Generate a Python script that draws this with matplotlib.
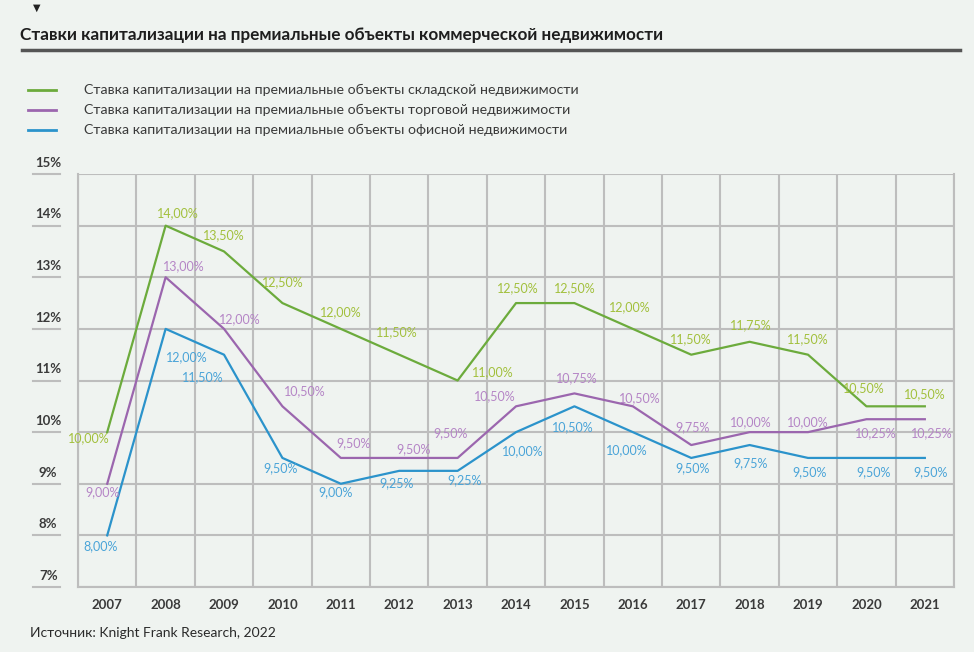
import numpy as np
import matplotlib
matplotlib.use("Agg")
import matplotlib.pyplot as plt
from matplotlib.lines import Line2D

plt.rcParams["font.family"] = ["Lato", "DejaVu Sans"]

# ── data ─────────────────────────────────────────────────────────────────────

years = ["2007", "2008", "2009", "2010", "2011", "2012", "2013", "2014",
         "2015", "2016", "2017", "2018", "2019", "2020", "2021"]

warehouse = [10.00, 14.00, 13.50, 12.50, 12.00, 11.50, 11.00, 12.50,
             12.50, 12.00, 11.50, 11.75, 11.50, 10.50, 10.50]
retail = [9.00, 13.00, 12.00, 10.50, 9.50, 9.50, 9.50, 10.50,
          10.75, 10.50, 9.75, 10.00, 10.00, 10.25, 10.25]
office = [8.00, 12.00, 11.50, 9.50, 9.00, 9.25, 9.25, 10.00,
          10.50, 10.00, 9.50, 9.75, 9.50, 9.50, 9.50]

series_names = [
    "Ставка капитализации на премиальные объекты складской недвижимости",
    "Ставка капитализации на премиальные объекты торговой недвижимости",
    "Ставка капитализации на премиальные объекты офисной недвижимости",
]

title = "Ставки капитализации на премиальные объекты коммерческой недвижимости"
source = "Источник: Knight Frank Research, 2022"

# ── style ────────────────────────────────────────────────────────────────────

BG = "#eff3f0"
GRID = "#bdbdbd"
LINE_COLORS = ["#6cab3c", "#9b66ae", "#2b93cb"]
LABEL_COLORS = ["#a2c03c", "#b585c6", "#4aa4d8"]

# label offsets in points (dx, dy) for each point of each series
warehouse_off = [(-13, -4), (9, 9), (0, 12), (0, 15), (0, 12), (-2, 16), (25, 6),
                 (1, 11), (0, 11), (-2, 16), (0, 11), (1, 12), (0, 11), (-2, 13), (0, 9)]
retail_off = [(-3, -6), (13, 8), (11, 7), (16, 11), (9, 11), (10, 6), (-5, 18),
              (-15, 7), (2, 11), (5, 6), (1, 13), (1, 7), (0, 7), (7, -10), (5, -10)]
office_off = [(-5, -8), (15, -20), (-15, -16), (-1, -7), (-4, -6), (-2, -9), (5, -7),
              (5, -14), (-1, -15), (-4, -13), (1, -7), (1, -13), (1, -10), (5, -10), (4, -10)]

# ── figure ───────────────────────────────────────────────────────────────────

fig = plt.figure(figsize=(9.74, 6.52), dpi=100, facecolor=BG)
ax = fig.add_axes([0.0801, 0.0997, 0.8994, 0.6334], facecolor=BG)

x = np.arange(len(years))
all_series = [warehouse, retail, office]
all_offsets = [warehouse_off, retail_off, office_off]

for vals, offs, lc, tc in zip(all_series, all_offsets, LINE_COLORS, LABEL_COLORS):
    ax.plot(x, vals, color=lc, linewidth=1.6, zorder=3)
    for xi, v, (dx, dy) in zip(x, vals, offs):
        ax.annotate(f"{v:.2f}%".replace(".", ","), (xi, v), xytext=(dx, dy),
                    textcoords="offset points", ha="center", va="center",
                    fontsize=9, color=tc, zorder=4)

ax.set_xlim(-0.5, len(years) - 0.5)
ax.set_ylim(7, 15)

# grid: horizontal at whole percents, vertical between the years
ax.set_yticks(np.arange(7, 16))
ax.set_yticklabels([])
ax.set_xticks(x)
ax.set_xticklabels(years, fontsize=9.5, color="#3a3a3a", fontweight="bold")
ax.set_xticks(np.arange(-0.5, len(years)), minor=True)
ax.tick_params(axis="both", which="both", length=0)
ax.tick_params(axis="x", pad=9)
ax.grid(axis="y", which="major", color=GRID, linewidth=1.5)
ax.grid(axis="x", which="minor", color=GRID, linewidth=1.5)
for side in ax.spines.values():
    side.set_color(GRID)
    side.set_linewidth(1.5)
ax.spines["top"].set_visible(False)

# y labels sit above a short underline to the left of the plot
for v in range(7, 16):
    ax.plot([-0.0514, -0.0205], [v, v], transform=ax.get_yaxis_transform(),
            color=GRID, linewidth=1.5, clip_on=False)
    ax.text(-0.034, v + 0.1, f"{v}%", transform=ax.get_yaxis_transform(),
            ha="center", va="bottom", fontsize=9.5, color="#3a3a3a", fontweight="bold")

# header
fig.text(0.038, 0.995, "▼", fontsize=7, color="#222222", ha="center", va="top",
         family="DejaVu Sans")
fig.text(0.021, 0.946, title, fontsize=12.3, fontweight="bold", color="#1e1e1e",
         ha="left", va="center")
fig.add_artist(Line2D([0.023, 0.986], [0.923, 0.923], color="#555555", linewidth=2.5))

# legend
for i, (name, lc) in enumerate(zip(series_names, LINE_COLORS)):
    yy = 1 - (90 + 20 * i) / 652
    fig.add_artist(Line2D([0.029, 0.058], [yy, yy], color=lc, linewidth=2))
    fig.text(0.086, yy, name, fontsize=10.2, color="#3a3a3a", ha="left", va="center")

fig.text(0.031, 0.029, source, fontsize=10, color="#2a2a2a", ha="left", va="center")

plt.savefig("out.png", dpi=100, facecolor=BG)
